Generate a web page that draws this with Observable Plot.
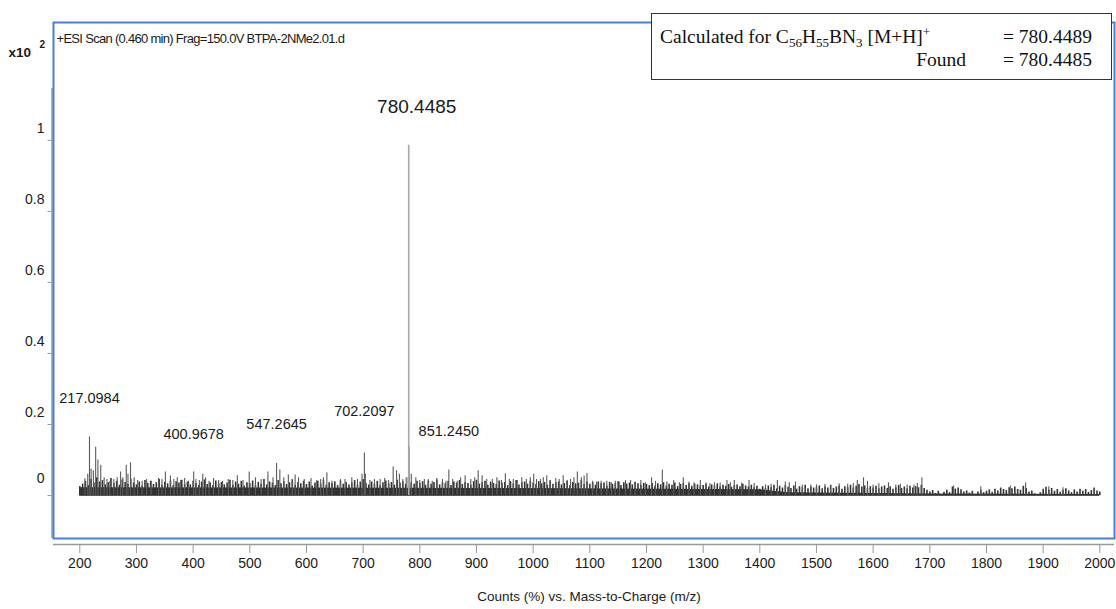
<!DOCTYPE html>
<html><head><meta charset="utf-8">
<script src="https://cdn.jsdelivr.net/npm/d3@7"></script>
<script src="https://cdn.jsdelivr.net/npm/@observablehq/plot@0.6"></script>
<style>
html,body{margin:0;padding:0;background:#fff;}
#chart{width:1116px;height:609px;color:#1a1a1a;}
</style>
</head><body><div id="chart"></div>
<script>
// ---- data ----
const headerText = "+ESI Scan (0.460 min) Frag=150.0V BTPA-2NMe2.01.d";
const xAxisTitle = "Counts (%) vs. Mass-to-Charge (m/z)";
const xTicks = [200,300,400,500,600,700,800,900,1000,1100,1200,1300,1400,1500,1600,1700,1800,1900,2000];
const yTicks = [0,0.2,0.4,0.6,0.8,1];
const xDomain = [153.6, 2025.9];
const yDomain = [-0.121, 1.332];

// baseline noise, one value every 5 m/z from 200 to 2000, in thousandths of the y unit
const noiseStartMz = 200, noiseStepMz = 5;
const noiseThousandths = [
25,32,40,28,45,35,50,38,42,30,36,48,34,40,29,44,37,32,46,35,
30,38,27,42,34,40,31,36,45,29,37,33,41,28,39,35,43,32,38,30,
40,34,29,38,44,31,36,28,41,33,37,30,35,43,29,38,32,40,27,36,
34,41,29,37,32,45,30,38,35,28,42,33,39,31,36,44,29,37,33,40,
31,38,27,35,40,32,43,29,36,34,39,28,41,32,37,30,35,42,29,38,
45,34,30,38,32,40,28,36,41,33,37,29,43,35,39,31,50,36,32,40,
34,39,29,41,32,37,44,30,36,33,40,28,38,35,42,31,37,34,29,39,
43,32,36,40,29,38,34,31,41,35,37,28,39,33,42,30,36,38,32,40,
35,31,39,33,37,29,41,32,36,38,30,34,40,28,37,33,35,42,31,38,
32,36,29,38,33,35,27,37,31,34,39,28,36,32,35,30,37,33,29,34,
31,28,34,26,33,30,36,27,32,29,35,25,31,34,28,33,26,32,30,27,
28,32,24,30,27,33,25,29,26,31,23,28,30,25,32,27,24,29,22,26,
18,25,20,27,22,29,19,26,21,28,23,20,27,18,25,22,29,19,24,21,
22,27,19,25,21,28,20,24,26,18,25,22,29,21,26,31,24,27,20,25,
21,26,19,24,27,20,25,18,22,28,20,24,19,26,21,25,22,29,20,15,
10,14,6,12,0,9,15,8,24,18,21,16,10,13,7,12,0,10,15,8,
12,16,9,18,13,21,17,14,22,19,24,17,15,26,20,10,13,5,0,8,
18,23,15,20,12,17,9,14,19,13,8,16,10,18,12,17,9,14,19,13,
10];

// dense floor of the noise band
const floorMz = [200, 1000, 1400, 1450, 1700, 2000];
const floorHeight = [0.022, 0.020, 0.016, 0.008, 0.004, 0.003];

// unlabelled spikes above the noise
const spikeMz = [209,220,228,232,237,243,260,272,276,282,289.5,296,318,339,351,360,372,385,417,422,436,462,478,499,510,532,553,568,580,586,608,630,636,660,680,704,720,738,753,759,764,781,793,808,830,880,903,910,928,951,965,980,1001,1013,1024,1040,1053,1066,1078,1095,1120,1145,1163,1172,1190,1209,1228,1248,1265,1275,1295,1320,1342,1355,1381,1410,1431,1445,1452,1463,1490,1540,1572,1583,1590,1610,1627,1660,1686,1742,1790,1842,1869,1910,1935,1990,
214,224,248,253,266,285,302,310,326,345,366,378,392,405,411,428,445,452,470,488,520,541,560,575,596,618,625,645,668,690,698,712,730,745,770,776,785,800,815,822,840,846,858,866,872,890,897,918,936,944,958,972,988,995,1006,1018,1030,1046,1060,1072,1085,1090,1105,1112,1130,1138,1152,1180,1198,1216,1236,1258,1284,1305,1312,1330,1348,1368,1390,1420,1475,1500,1515,1525,1555,1565,1600,1640,1648,1672,1678];
const spikeHeight = [0.047,0.075,0.136,0.10,0.085,0.05,0.045,0.066,0.05,0.085,0.092,0.05,0.045,0.048,0.066,0.055,0.05,0.048,0.06,0.05,0.048,0.045,0.056,0.066,0.05,0.066,0.072,0.058,0.058,0.05,0.048,0.05,0.064,0.045,0.05,0.06,0.045,0.048,0.08,0.07,0.06,0.136,0.05,0.045,0.048,0.056,0.07,0.056,0.045,0.061,0.045,0.05,0.06,0.045,0.056,0.048,0.056,0.045,0.066,0.062,0.04,0.04,0.042,0.042,0.042,0.05,0.072,0.042,0.05,0.038,0.042,0.036,0.042,0.042,0.042,0.03,0.042,0.038,0.036,0.038,0.03,0.033,0.042,0.05,0.04,0.033,0.036,0.03,0.05,0.027,0.025,0.027,0.035,0.025,0.022,0.022,
0.06,0.07,0.045,0.04,0.05,0.06,0.042,0.04,0.04,0.045,0.045,0.042,0.04,0.045,0.042,0.04,0.042,0.04,0.042,0.042,0.045,0.05,0.05,0.045,0.045,0.042,0.045,0.04,0.045,0.045,0.06,0.042,0.045,0.042,0.045,0.05,0.06,0.042,0.045,0.04,0.045,0.04,0.045,0.04,0.05,0.045,0.05,0.045,0.05,0.042,0.045,0.042,0.045,0.05,0.045,0.05,0.042,0.045,0.042,0.05,0.05,0.055,0.04,0.038,0.04,0.036,0.038,0.038,0.036,0.04,0.038,0.036,0.036,0.036,0.034,0.035,0.036,0.035,0.034,0.032,0.03,0.03,0.032,0.03,0.032,0.034,0.03,0.03,0.032,0.03,0.034];

// labelled peaks
const peakMz = [217.0984, 400.9678, 547.2645, 702.2097, 780.4485, 851.2450];
const peakHeight = [0.165, 0.066, 0.090, 0.120, 0.986, 0.072];
const peakLabelY = [0.273, 0.172, 0.200, 0.237, 1.093, 0.180];

// ---- build tables ----
const noise = noiseThousandths.map((v, i) => ({mz: noiseStartMz + i * noiseStepMz, h: v / 1000}));
const floor = floorMz.map((m, i) => ({mz: m, h: floorHeight[i]}));
const spikes = spikeMz.map((m, i) => ({mz: m, h: spikeHeight[i]}));
const peaks = peakMz.map((m, i) => ({mz: m, h: peakHeight[i], ly: peakLabelY[i], label: m.toFixed(4)}));
const basePeak = peaks.filter(d => d.h > 0.5);
const minorPeaks = peaks.filter(d => d.h <= 0.5);
const fmtY = d => d === 0 ? "0" : String(+d.toFixed(1));

const sans = "'Liberation Sans', Arial, Helvetica, sans-serif";

const chart = Plot.plot({
  width: 1116, height: 609,
  marginLeft: 53, marginRight: 2, marginTop: 22, marginBottom: 71,
  style: {fontFamily: sans, background: "#fff", color: "#1a1a1a", overflow: "visible"},
  x: {domain: xDomain},
  y: {domain: yDomain},
  marks: [
    // noise band
    Plot.areaY(floor, {x: "mz", y: "h", fill: "#333"}),
    Plot.ruleX(noise, {x: "mz", y1: 0, y2: "h", stroke: "#333", strokeWidth: 1.6}),
    Plot.ruleX(spikes, {x: "mz", y1: 0, y2: "h", stroke: "#5a5a5a", strokeWidth: 1.1}),
    Plot.ruleX(minorPeaks, {x: "mz", y1: 0, y2: "h", stroke: "#5a5a5a", strokeWidth: 1.1}),
    Plot.ruleX(basePeak, {x: "mz", y1: 0, y2: "h", stroke: "#a8a8a8", strokeWidth: 1.6}),
    Plot.ruleY([0], {stroke: "#555", strokeWidth: 1, x1: 200, x2: 2000}),
    // peak labels
    Plot.text(minorPeaks, {x: "mz", y: "ly", text: "label", fontSize: 14.5, fill: "#1a1a1a"}),
    Plot.text(basePeak, {x: "mz", y: "ly", text: "label", fontSize: 19, dx: 8, fill: "#1a1a1a"}),
    // axes
    Plot.ruleX([xDomain[0]], {y1: yDomain[0], y2: 1.146, dx: -1.5, stroke: "#9a9a9a", strokeWidth: 1.5}),
    Plot.axisY(yTicks, {anchor: "left", tickSize: 4, dx: -1.5, stroke: "#9a9a9a", tickFormat: () => "", label: null}),
    Plot.text(yTicks.filter(d => d !== 0), {x: xDomain[0], y: d => d, text: fmtY, textAnchor: "end", dx: -9, dy: -12, fontSize: 14, fill: "#1a1a1a"}),
    Plot.text(yTicks.filter(d => d === 0), {x: xDomain[0], y: d => d, text: fmtY, textAnchor: "end", dx: -9, dy: -17, fontSize: 14, fill: "#1a1a1a"}),
    Plot.ruleY([yDomain[0]], {dy: 6, stroke: "#9a9a9a", strokeWidth: 1.5}),
    Plot.axisX(xTicks, {anchor: "bottom", tickSize: 9, tickPadding: 5, dy: 6, stroke: "#9a9a9a", fontSize: 14, tickFormat: d => String(d), label: null, fill: "#1a1a1a"}),
    Plot.text([xAxisTitle], {frameAnchor: "bottom", dx: 5, dy: 62, fontSize: 13.5, fill: "#1a1a1a"}),
    // header and scale factor
    Plot.text([headerText], {frameAnchor: "top-left", dx: 3, dy: 11, textAnchor: "start", fontSize: 13, fill: "#1a1a1a"}),
    Plot.text(["x10"], {frameAnchor: "top-left", dx: -45, dy: 25, textAnchor: "start", fontSize: 13.5, fontWeight: "bold", fill: "#1a1a1a"}),
    Plot.text(["2"], {frameAnchor: "top-left", dx: -14, dy: 18, textAnchor: "start", fontSize: 10, fontWeight: "bold", fill: "#1a1a1a"}),
    Plot.frame({stroke: "#4a7fd6", strokeWidth: 2})
  ]
});

// header letter-spacing
d3.select(chart).selectAll("text").filter(function(){ return this.textContent === headerText; })
  .attr("letter-spacing", "-0.7");

document.getElementById("chart").appendChild(chart);

// formula box
const svg = d3.select(chart);
const g = svg.append("g").attr("font-family", "'Liberation Serif', 'Times New Roman', serif")
  .attr("font-size", 19.5).attr("fill", "#111").attr("text-anchor", "start");
g.append("rect").attr("x", 651.5).attr("y", 13.5).attr("width", 460).attr("height", 66)
  .attr("fill", "#fff").attr("stroke", "#333").attr("stroke-width", 1);
const t1 = g.append("text").attr("x", 660).attr("y", 43).attr("text-anchor", "start");
t1.append("tspan").text("Calculated for C");
t1.append("tspan").attr("font-size", 13).attr("dy", 4).text("56");
t1.append("tspan").attr("dy", -4).text("H");
t1.append("tspan").attr("font-size", 13).attr("dy", 4).text("55");
t1.append("tspan").attr("dy", -4).text("BN");
t1.append("tspan").attr("font-size", 13).attr("dy", 4).text("3");
t1.append("tspan").attr("dy", -4).text(" [M+H]");
t1.append("tspan").attr("font-size", 13).attr("dy", -7).text("+");
g.append("text").attr("x", 1003).attr("y", 43).attr("text-anchor", "start").text("= 780.4489");
g.append("text").attr("x", 966).attr("y", 66).attr("text-anchor", "end").text("Found");
g.append("text").attr("x", 1003).attr("y", 66).attr("text-anchor", "start").text("= 780.4485");
</script>
</body></html>
